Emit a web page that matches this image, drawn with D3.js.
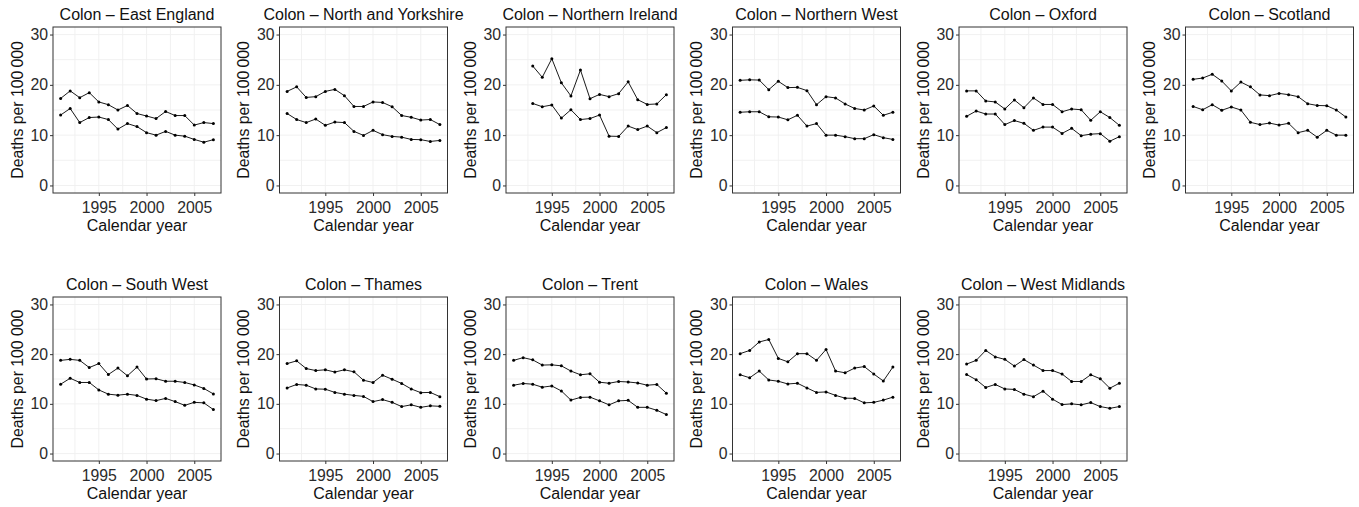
<!DOCTYPE html>
<html>
<head>
<meta charset="utf-8">
<script src="https://cdn.jsdelivr.net/npm/d3@7/dist/d3.min.js"></script>
<style>
  body { margin: 0; background: #fff; }
  text { font-family: "Liberation Sans", Arial, Helvetica, sans-serif; }
</style>
</head>
<body>
<div id="chart"></div>
<script>
const years = [1991, 1992, 1993, 1994, 1995, 1996, 1997, 1998, 1999, 2000, 2001, 2002, 2003, 2004, 2005, 2006, 2007];

const regions = ['East England', 'North and Yorkshire', 'Northern Ireland', 'Northern West', 'Oxford', 'Scotland',
                 'South West', 'Thames', 'Trent', 'Wales', 'West Midlands'];

// upper line of each panel
const men = [
    [17.3, 18.8, 17.45, 18.45, 16.6, 16.05, 15.0, 15.9, 14.3, 13.8, 13.3, 14.7, 13.9, 13.9, 12.0, 12.5, 12.3],
    [18.7, 19.6, 17.5, 17.65, 18.7, 19.1, 17.85, 15.7, 15.7, 16.6, 16.5, 15.65, 13.9, 13.55, 13.0, 13.1, 12.1],
    [null, null, 23.75, 21.5, 25.2, 20.4, 17.8, 22.95, 17.25, 18.1, 17.65, 18.25, 20.6, 17.05, 16.1, 16.2, 18.05],
    [20.9, 21.0, 20.95, 19.05, 20.7, 19.45, 19.5, 18.85, 16.05, 17.65, 17.4, 16.2, 15.3, 15.0, 15.8, 13.95, 14.55],
    [18.8, 18.8, 16.8, 16.6, 15.2, 17.0, 15.45, 17.4, 16.1, 16.1, 14.65, 15.2, 15.05, 12.95, 14.65, 13.5, 11.95],
    [21.1, 21.35, 22.1, 20.75, 18.8, 20.55, 19.6, 18.0, 17.85, 18.3, 18.05, 17.65, 16.25, 15.9, 15.85, 15.0, 13.6],
    [18.75, 18.95, 18.75, 17.3, 18.1, 15.9, 17.2, 15.65, 17.4, 15.0, 15.05, 14.55, 14.55, 14.3, 13.8, 13.1, 12.0],
    [18.1, 18.65, 17.1, 16.7, 16.85, 16.4, 16.85, 16.45, 14.75, 14.3, 15.75, 14.95, 14.1, 13.0, 12.25, 12.3, 11.45],
    [18.75, 19.3, 18.85, 17.8, 17.85, 17.65, 16.6, 15.85, 16.05, 14.35, 14.15, 14.5, 14.4, 14.2, 13.75, 13.9, 12.15],
    [20.1, 20.75, 22.45, 22.95, 19.15, 18.45, 20.1, 20.1, 18.75, 20.95, 16.6, 16.25, 17.2, 17.5, 16.0, 14.6, 17.4],
    [18.0, 18.75, 20.75, 19.45, 18.95, 17.6, 18.9, 17.8, 16.7, 16.7, 16.0, 14.5, 14.5, 15.85, 15.05, 13.15, 14.15]
];

// lower line of each panel
const women = [
    [14.0, 15.3, 12.5, 13.5, 13.6, 13.1, 11.2, 12.3, 11.7, 10.5, 10.0, 10.75, 10.0, 9.8, 9.15, 8.6, 9.1],
    [14.3, 13.1, 12.5, 13.2, 11.95, 12.6, 12.5, 10.75, 9.95, 10.95, 10.1, 9.75, 9.6, 9.15, 9.1, 8.75, 8.95],
    [null, null, 16.3, 15.65, 16.0, 13.4, 15.05, 13.1, 13.3, 14.0, 9.8, 9.75, 11.8, 11.1, 11.8, 10.5, 11.5],
    [14.55, 14.65, 14.65, 13.65, 13.6, 13.05, 13.95, 11.8, 12.3, 10.0, 10.0, 9.7, 9.3, 9.3, 10.1, 9.5, 9.15],
    [13.75, 14.8, 14.2, 14.2, 12.1, 12.9, 12.35, 10.95, 11.6, 11.6, 10.35, 11.35, 9.9, 10.2, 10.3, 8.8, 9.7],
    [15.7, 15.05, 16.05, 14.95, 15.6, 15.0, 12.55, 12.1, 12.4, 12.0, 12.35, 10.5, 10.95, 9.6, 10.95, 10.0, 10.0],
    [13.95, 15.15, 14.3, 14.3, 12.8, 11.95, 11.75, 11.95, 11.7, 10.95, 10.65, 11.1, 10.45, 9.7, 10.3, 10.2, 8.85],
    [13.2, 13.9, 13.75, 13.0, 12.95, 12.3, 11.95, 11.7, 11.5, 10.45, 10.85, 10.3, 9.45, 9.8, 9.3, 9.6, 9.5],
    [13.75, 14.1, 13.95, 13.35, 13.6, 12.6, 10.75, 11.3, 11.35, 10.6, 9.8, 10.6, 10.7, 9.3, 9.3, 8.7, 7.85],
    [15.85, 15.25, 16.6, 14.8, 14.55, 14.0, 14.15, 13.2, 12.3, 12.4, 11.7, 11.15, 11.1, 10.2, 10.3, 10.75, 11.35],
    [15.9, 14.85, 13.3, 13.9, 13.0, 12.9, 11.95, 11.45, 12.55, 10.95, 9.85, 10.0, 9.8, 10.25, 9.45, 9.1, 9.45]
];

const xTicks = [1995, 2000, 2005];
const xMinor = [1992.5, 1997.5, 2002.5];
const yTicks = [0, 10, 20, 30];
const yMinor = [5, 15, 25];

const width = 1359, height = 507;
const cellW = 226.5;
const plotLeft = 53, plotW = 168;
const rows = [{top: 27, bottom: 193, yLabel: 'Deaths per 100\u2009000'},
              {top: 297, bottom: 461, yLabel: 'Deaths per 100 000'}];

const svg = d3.select('#chart')
    .append('svg')
    .attr('width', width)
    .attr('height', height);

regions.forEach((region, i) => {
    const row = rows[Math.floor(i / 6)];
    const g = svg.append('g')
        .attr('transform', `translate(${(i % 6) * cellW},0)`);

    const x = d3.scaleLinear()
        .domain([1990.2, 2007.8])
        .range([plotLeft, plotLeft + plotW]);
    const y = d3.scaleLinear()
        .domain([-1.5, 31.5])
        .range([row.bottom, row.top]);

    // grid
    g.selectAll('.vgrid')
        .data(xTicks.concat(xMinor))
        .enter()
        .append('line')
        .attr('x1', d => x(d)).attr('x2', d => x(d))
        .attr('y1', row.top).attr('y2', row.bottom)
        .attr('stroke', '#efefef')
        .attr('stroke-width', 0.9);
    g.selectAll('.hgrid')
        .data(yTicks.concat(yMinor))
        .enter()
        .append('line')
        .attr('x1', plotLeft).attr('x2', plotLeft + plotW)
        .attr('y1', d => y(d)).attr('y2', d => y(d))
        .attr('stroke', '#efefef')
        .attr('stroke-width', 0.9);

    // axes
    const xa = g.append('g')
        .attr('transform', `translate(0,${row.bottom})`)
        .call(d3.axisBottom(x).tickValues(xTicks).tickFormat(d3.format('d')).tickSize(3).tickPadding(6));
    const ya = g.append('g')
        .attr('transform', `translate(${plotLeft},0)`)
        .call(d3.axisLeft(y).tickValues(yTicks).tickSize(3).tickPadding(2));
    [xa, ya].forEach(a => {
        a.select('.domain').remove();
        a.selectAll('line').attr('stroke', '#333');
        a.selectAll('text')
            .attr('fill', '#2b2b2b')
            .style('font-size', '15.8px');
    });

    // lines
    const series = [men[i], women[i]];
    const line = d3.line()
        .defined(d => d != null)
        .x((d, j) => x(years[j]))
        .y(d => y(d));
    series.forEach(values => {
        g.append('path')
            .attr('d', line(values))
            .attr('fill', 'none')
            .attr('stroke', '#000')
            .attr('stroke-width', 0.9);
        g.selectAll(null)
            .data(values.map((v, j) => ({year: years[j], v})).filter(d => d.v != null))
            .enter()
            .append('circle')
            .attr('cx', d => x(d.year))
            .attr('cy', d => y(d.v))
            .attr('r', 1.5)
            .attr('fill', '#000');
    });

    // panel border
    g.append('rect')
        .attr('x', plotLeft).attr('y', row.top)
        .attr('width', plotW).attr('height', row.bottom - row.top)
        .attr('fill', 'none')
        .attr('stroke', '#333')
        .attr('stroke-width', 1);

    // titles
    g.append('text')
        .attr('text-anchor', 'middle')
        .attr('x', plotLeft + plotW / 2)
        .attr('y', row.top - 7)
        .style('font-size', '16px')
        .attr('fill', '#111')
        .text('Colon \u2013 ' + region);

    g.append('text')
        .attr('text-anchor', 'middle')
        .attr('x', plotLeft + plotW / 2)
        .attr('y', row.bottom + 38)
        .style('font-size', '16px')
        .attr('fill', '#111')
        .text('Calendar year');

    g.append('text')
        .attr('text-anchor', 'middle')
        .attr('transform', 'rotate(-90)')
        .attr('x', -(row.top + row.bottom) / 2)
        .attr('y', 22.5)
        .style('font-size', '15.8px')
        .attr('fill', '#111')
        .text(row.yLabel);
});
</script>
</body>
</html>
